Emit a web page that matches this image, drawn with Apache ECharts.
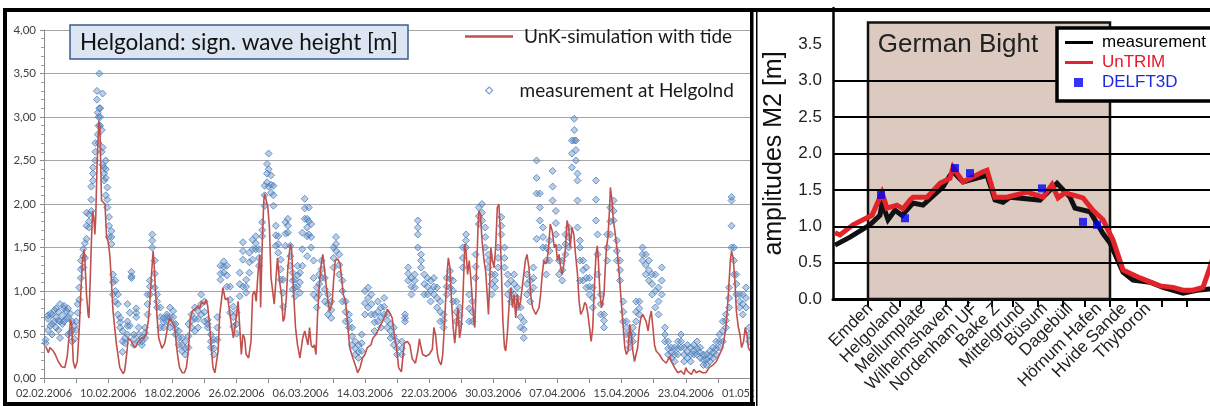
<!DOCTYPE html>
<html><head><meta charset="utf-8">
<script src="https://cdn.jsdelivr.net/npm/echarts@6/dist/echarts.min.js"></script>
<style>html,body{margin:0;padding:0;background:#fff}#c{width:1210px;height:406px}</style>
</head><body><div id="c"></div>
<script>
// ---------- left chart: Helgoland significant wave height ----------
const dateLabels = ['02.02.2006','10.02.2006','18.02.2006','26.02.2006','06.03.2006','14.03.2006','22.03.2006','30.03.2006','07.04.2006','15.04.2006','23.04.2006','01.05.2006'];
// [day since 02.02.2006, Hs]
const simulation = [[0.25,0.36],[0.54,0.29],[0.75,0.35],[1.16,0.31],[1.4,0.27],[1.78,0.19],[2.2,0.13],[2.4,0.11],[2.6,0.12],[2.8,0.11],[2.9,0.25],[3.1,0.23],[3.3,0.67],[3.45,0.62],[3.65,0.19],[3.86,0.11],[3.98,0.10],[4.15,0.19],[4.4,0.58],[4.6,1.0],[4.8,1.35],[5.0,1.48],[5.1,1.35],[5.3,0.96],[5.5,0.73],[5.6,0.69],[5.7,0.96],[5.93,1.62],[6.05,1.92],[6.2,1.85],[6.34,1.65],[6.45,1.85],[6.6,2.42],[6.84,2.96],[6.97,2.88],[7.17,2.04],[7.4,2.04],[7.6,2.0],[7.8,1.62],[8.0,1.56],[8.2,1.42],[8.4,1.12],[8.6,0.77],[9.04,0.38],[9.45,0.12],[9.87,0.05],[10.05,0.08],[10.3,0.27],[10.5,0.46],[10.7,0.48],[10.9,0.42],[11.1,0.38],[11.4,0.35],[11.73,0.42],[12.15,0.46],[12.45,0.46],[12.7,0.5],[13.0,0.65],[13.2,0.88],[13.4,1.19],[13.6,1.46],[13.7,1.35],[13.9,1.0],[14.1,0.69],[14.3,0.46],[14.5,0.40],[14.7,0.34],[15.05,0.40],[15.25,0.5],[15.46,0.62],[15.67,0.69],[15.9,0.67],[16.1,0.62],[16.3,0.58],[16.5,0.38],[16.7,0.23],[16.9,0.12],[17.25,0.06],[17.5,0.06],[17.75,0.12],[18.03,0.35],[18.24,0.69],[18.5,0.77],[18.8,0.79],[19.0,0.77],[19.2,0.83],[19.4,0.79],[19.6,0.87],[19.8,0.88],[20.0,0.85],[20.2,0.90],[20.4,0.83],[20.6,0.65],[20.85,0.35],[21.06,0.12],[21.3,0.06],[21.5,0.08],[21.7,0.31],[21.9,0.73],[22.1,0.88],[22.3,1.04],[22.6,0.90],[22.9,0.92],[23.3,0.65],[23.6,0.46],[23.9,0.65],[24.2,0.88],[24.4,0.58],[24.6,0.27],[24.8,0.5],[25.0,0.46],[25.2,0.27],[25.5,0.23],[25.8,0.42],[26.0,0.96],[26.25,1.0],[26.45,0.88],[26.66,1.19],[26.9,1.42],[27.0,0.81],[27.2,1.54],[27.4,2.04],[27.5,2.12],[27.7,2.04],[27.9,1.96],[28.1,1.73],[28.3,1.15],[28.5,1.17],[28.7,0.85],[28.9,1.12],[29.1,1.38],[29.35,1.12],[29.6,0.96],[29.8,0.65],[29.97,0.69],[30.2,0.92],[30.4,1.27],[30.7,1.54],[30.85,1.5],[31.1,1.0],[31.35,0.58],[31.6,0.38],[31.9,0.23],[32.25,0.46],[32.5,0.54],[32.7,0.46],[32.9,0.38],[33.1,0.58],[33.3,0.38],[33.5,0.35],[33.7,0.38],[33.9,0.27],[34.1,0.73],[34.3,1.04],[34.5,1.27],[34.75,1.42],[34.95,1.27],[35.2,1.04],[35.4,0.88],[35.6,0.77],[35.9,0.85],[36.1,1.12],[36.3,1.35],[36.6,1.37],[36.9,1.31],[37.1,1.15],[37.3,0.96],[37.6,0.88],[37.85,0.62],[38.1,0.35],[38.5,0.23],[38.9,0.12],[39.1,0.06],[39.4,0.12],[39.7,0.23],[40.0,0.27],[40.3,0.35],[40.75,0.38],[41.0,0.46],[41.4,0.50],[41.8,0.58],[42.2,0.65],[42.6,0.73],[42.8,0.79],[43.1,0.75],[43.4,0.69],[43.65,0.5],[43.95,0.35],[44.2,0.12],[44.55,0.07],[44.9,0.40],[45.3,0.42],[45.6,0.38],[45.9,0.22],[46.3,0.17],[46.6,0.31],[46.8,0.45],[47.0,0.35],[47.2,0.27],[47.6,0.25],[48.0,0.27],[48.4,0.33],[48.6,0.58],[48.8,0.5],[49.05,0.27],[49.25,0.19],[49.5,0.15],[49.7,0.27],[49.9,0.58],[50.1,0.96],[50.3,1.27],[50.4,1.38],[50.6,1.27],[50.8,0.88],[51.0,0.58],[51.2,0.40],[51.4,0.62],[51.6,0.81],[51.8,0.46],[52.0,0.58],[52.2,0.88],[52.45,1.54],[52.6,1.46],[52.8,1.19],[53.0,1.35],[53.2,1.15],[53.4,0.88],[53.6,0.62],[53.7,0.58],[53.9,1.19],[54.1,1.73],[54.2,1.92],[54.4,1.88],[54.6,1.58],[54.85,1.35],[55.05,1.23],[55.3,0.88],[55.4,0.73],[55.6,1.19],[55.7,1.5],[55.9,1.35],[56.1,1.27],[56.3,1.5],[56.5,1.96],[56.7,2.0],[56.85,1.73],[57.0,1.27],[57.2,0.65],[57.4,0.35],[57.55,0.31],[57.75,0.5],[58.0,0.88],[58.2,1.04],[58.4,0.81],[58.6,0.96],[58.8,0.69],[59.0,0.96],[59.2,0.81],[59.4,0.88],[59.6,1.04],[59.8,1.19],[60.0,1.35],[60.2,1.42],[60.45,1.27],[60.66,0.96],[60.9,0.81],[61.1,0.79],[61.3,0.73],[61.5,0.75],[61.7,0.81],[61.9,0.96],[62.1,1.19],[62.3,1.35],[62.5,1.31],[62.7,1.35],[62.9,1.5],[63.1,1.77],[63.35,1.69],[63.6,1.5],[63.8,1.54],[64.0,1.35],[64.2,1.42],[64.4,1.27],[64.6,1.19],[64.8,1.31],[65.0,1.5],[65.2,1.81],[65.4,1.73],[65.6,1.5],[65.8,1.73],[66.05,1.65],[66.25,1.42],[66.5,1.19],[66.7,0.88],[66.9,0.73],[67.2,0.79],[67.4,0.87],[67.6,0.84],[67.8,0.73],[68.0,0.58],[68.2,0.42],[68.4,0.58],[68.6,1.04],[68.8,1.42],[68.97,1.52],[69.1,1.35],[69.3,0.96],[69.5,0.81],[69.65,0.79],[69.8,0.96],[69.96,1.27],[70.1,1.5],[70.3,1.62],[70.5,1.96],[70.6,2.19],[70.8,2.04],[70.96,1.81],[71.1,1.73],[71.3,1.58],[71.5,1.42],[71.7,1.19],[71.95,0.88],[72.2,0.58],[72.4,0.35],[72.6,0.27],[72.8,0.31],[73.0,0.62],[73.2,0.5],[73.4,0.31],[73.6,0.19],[73.8,0.19],[74.0,0.35],[74.2,0.58],[74.4,0.69],[74.65,0.73],[74.85,0.69],[75.05,0.65],[75.3,0.54],[75.5,0.69],[75.7,0.77],[75.9,0.58],[76.1,0.38],[76.3,0.31],[76.7,0.27],[77.1,0.21],[77.55,0.17],[78.0,0.25],[78.2,0.19],[78.6,0.12],[79.0,0.06],[79.4,0.08],[79.8,0.04],[80.0,0.12],[80.2,0.08],[80.7,0.04],[81.0,0.10],[81.3,0.06],[81.7,0.08],[82.1,0.06],[82.5,0.06],[82.9,0.12],[83.4,0.15],[83.8,0.19],[84.2,0.27],[84.6,0.35],[85.0,0.58],[85.3,0.96],[85.55,1.35],[85.7,1.46],[85.9,1.38],[86.1,1.15],[86.3,0.77],[86.55,0.58],[86.75,0.5],[86.95,0.35],[87.2,0.42],[87.4,0.58],[87.6,0.5],[87.8,0.35],[88.0,0.31]];
// [day, measured values seen at that time ...]
const measurement = [[0.2,0.40,0.44],[0.5,0.55,0.68,0.72],[0.8,0.60,0.74],[1.0,0.50,0.62,0.73],[1.3,0.65,0.78],[1.5,0.58,0.70,0.80],[1.8,0.55,0.66,0.76],[2.0,0.46,0.65,0.85],[2.3,0.62,0.72],[2.5,0.65,0.80,0.83],[2.8,0.68,0.77],[3.0,0.50,0.70,0.80],[3.3,0.52,0.74],[3.5,0.42,0.55,0.65],[3.8,0.45,0.60],[4.0,0.55,0.65],[4.2,0.75,0.85],[4.4,0.90,1.04],[4.6,1.15,1.25,1.35],[4.9,1.27,1.40,1.48],[5.1,1.38,1.55],[5.3,1.60,1.75,1.90],[5.6,1.73,1.80,1.88],[5.9,1.92,2.05,2.20],[6.1,2.27,2.35,2.42],[6.4,2.50,2.60,2.70],[6.6,3.20,3.30],[6.7,2.80,3.05],[6.75,4.0],[6.8,2.70,2.90,3.00],[6.9,3.50,3.10],[7.0,2.90,3.00,3.10],[7.2,2.60,2.85],[7.3,3.27,2.45,2.65],[7.5,2.27,2.35,2.42],[7.7,2.50,2.10,2.30,2.40],[7.9,1.96,2.05,2.19],[8.1,1.62,1.75,1.85],[8.4,1.54,1.62,1.69],[8.6,0.96,1.10,1.19],[8.9,0.88,1.00,1.12],[9.2,0.73,0.85,0.96],[9.5,0.58,0.64,0.69],[9.8,0.30,0.42,0.54],[10.1,0.40,0.46],[10.4,0.50,0.60,0.65,0.85],[10.7,0.60,0.75],[10.9,1.15,1.17,1.22],[11.2,0.38,0.45,0.50],[11.5,0.70,0.75,0.80],[11.8,0.42,0.50,0.58],[12.2,0.38,0.42,0.46],[12.6,0.46,0.52,0.58],[12.9,0.73,0.85,0.96],[13.2,0.96,1.05,1.12],[13.5,1.50,1.58,1.65],[13.8,1.04,1.20,1.35],[14.1,0.81,0.88,0.96],[14.5,0.58,0.70,0.81],[14.9,0.58,0.64,0.69],[15.3,0.65,0.70,0.73],[15.7,0.58,0.70,0.81],[16.1,0.62,0.70,0.77],[16.4,0.50,0.56,0.62],[16.8,0.38,0.46,0.54],[17.2,0.31,0.38,0.46],[17.6,0.27,0.34,0.42],[18.0,0.35,0.48,0.62],[18.4,0.58,0.66,0.73],[18.8,0.54,0.68,0.81],[19.2,0.58,0.68,0.77],[19.6,0.73,0.85,0.96],[20.0,0.65,0.76,0.88],[20.4,0.58,0.62,0.67],[20.8,0.35,0.42,0.50],[21.2,0.27,0.34,0.44],[21.6,0.44,0.58,0.70],[22.0,1.13,1.20,1.29],[22.4,1.21,1.28,1.34],[22.8,1.05,1.18,1.29],[23.2,0.75,0.90,1.05],[23.6,0.59,0.70,0.82],[24.0,0.51,0.62,0.75],[24.4,0.94,1.08,1.21],[24.8,1.36,1.46,1.56,1.05],[25.2,0.98,1.05,1.13],[25.6,1.21,1.33,1.44],[26.0,1.36,1.48,1.59],[26.4,1.48,1.55,1.63],[26.8,1.29,1.38,1.48],[27.2,1.63,1.70,1.79],[27.5,1.98,2.10,2.21],[27.8,2.25,2.35,2.46],[28.0,2.58,2.20,2.40],[28.3,2.13,2.22,2.33],[28.6,1.98,2.10,2.21],[28.9,1.52,1.64,1.75],[29.2,1.44,1.54,1.63],[29.5,1.13,1.25,1.36],[29.8,0.82,0.98,1.13],[30.1,1.52,1.66,1.79],[30.4,1.67,1.75,1.83],[30.7,1.29,1.40,1.52],[31.0,1.02,1.12,1.21],[31.3,0.94,1.04,1.13],[31.6,1.05,1.18,1.29],[31.9,0.98,1.10,1.21],[32.2,1.29,1.48,1.67],[32.5,1.83,1.95,2.06],[32.8,1.63,1.73,1.83,1.40],[33.0,1.65,1.80,1.96],[33.3,1.50,1.62,1.77],[33.6,0.96,1.15,1.35],[34.0,0.81,0.92,1.04],[34.3,0.96,1.08,1.19],[34.6,1.15,1.25,1.35],[35.0,0.88,1.02,1.15],[35.4,0.73,0.85,0.96],[35.8,0.69,0.78,0.88],[36.1,1.27,1.38,1.50],[36.4,1.46,1.54,1.62],[36.8,1.19,1.30,1.42],[37.2,0.88,1.00,1.12],[37.6,0.65,0.76,0.88],[38.0,0.58,0.66,0.73],[38.4,0.38,0.48,0.58],[38.8,0.27,0.34,0.42],[39.2,0.23,0.30,0.38],[39.6,0.31,0.40,0.50],[40.0,0.73,0.86,1.00],[40.4,0.81,0.92,1.04],[40.8,0.73,0.85,0.96],[41.2,0.54,0.64,0.73],[41.6,0.65,0.76,0.88],[42.0,0.58,0.70,0.81],[42.4,0.73,0.82,0.92],[42.8,0.58,0.66,0.73],[43.2,0.46,0.54,0.62],[43.6,0.38,0.48,0.58],[44.0,0.27,0.34,0.42],[44.6,0.27,0.34,0.42],[45.0,0.65,0.69,0.73],[45.4,1.12,1.20,1.27],[45.8,0.96,1.05,1.15],[46.2,1.04,1.12,1.19],[46.6,1.65,1.73,1.81,1.50],[47.0,1.27,1.35,1.42],[47.4,0.96,1.08,1.19],[47.8,0.96,1.05,1.15],[48.2,0.88,1.00,1.12],[48.6,0.96,1.05,1.15],[49.0,0.81,0.92,1.04],[49.4,0.65,0.76,0.88],[49.8,0.58,0.66,0.73],[50.2,0.96,1.05,1.15],[50.6,1.04,1.14,1.23],[51.0,0.88,1.00,1.12],[51.4,0.65,0.76,0.88],[51.8,0.62,0.72,0.81],[52.2,1.27,1.38,1.50],[52.6,1.50,1.58,1.65],[53.0,0.65,0.80,0.96],[53.4,0.65,0.76,0.88],[53.8,1.15,1.28,1.42],[54.2,1.77,1.86,1.96],[54.6,1.81,1.90,2.00],[55.0,1.50,1.62,1.73],[55.4,1.27,1.35,1.42],[55.8,0.96,1.08,1.19],[56.2,1.04,1.12,1.19],[56.6,1.27,1.38,1.50],[57.0,1.65,1.75,1.85],[57.4,1.27,1.38,1.50],[57.8,0.96,1.08,1.19],[58.2,0.88,1.00,1.12],[58.6,0.96,1.08,1.19],[59.0,0.81,0.92,1.04],[59.4,0.58,0.70,0.81],[59.8,0.46,0.56,0.65],[60.2,0.96,1.08,1.19],[60.6,0.88,1.00,1.12],[61.0,1.04,1.15,1.27],[61.4,2.12,2.30,2.50,1.60],[61.8,1.81,1.96,2.12],[62.2,1.50,1.62,1.73],[62.6,1.19,1.35,1.50],[63.0,1.35,1.46,1.58],[63.4,2.04,2.20,2.38],[63.8,1.65,1.78,1.92],[64.2,1.19,1.35,1.50],[64.6,1.12,1.24,1.35],[65.0,1.42,1.54,1.65],[65.4,1.50,1.62,1.73],[65.8,2.42,2.58,2.73],[66.1,2.73,2.98,2.85],[66.3,2.50,2.62,2.73],[66.5,2.27,2.35,1.73,2.04],[66.8,1.50,1.58,1.12,1.35],[67.2,1.12,1.24,1.35],[67.6,1.04,1.15,1.27],[68.0,0.96,1.05,1.15],[68.4,0.81,0.92,1.04],[68.8,1.81,2.05,2.27],[69.0,1.19,1.42,1.65],[69.4,0.73,0.85,0.96],[69.8,0.58,0.66,0.73],[70.2,1.35,1.50,1.65],[70.6,1.65,1.80,1.96],[71.0,1.81,1.92,2.04],[71.4,1.35,1.46,1.58],[71.8,1.12,1.24,1.35],[72.2,0.65,0.76,0.88],[72.6,0.50,0.58,0.65],[73.0,0.35,0.42,0.50],[73.4,0.42,0.50,0.58],[73.8,0.65,0.76,0.88],[74.2,0.73,0.80,0.88],[74.6,1.35,1.42,1.50],[75.0,1.19,1.30,1.42],[75.4,1.12,1.24,1.35],[75.8,0.96,1.08,1.19],[76.2,0.81,1.00,1.19],[76.6,0.73,0.88,1.04],[77.0,0.96,1.12,1.27],[77.4,0.42,0.50,0.58],[77.8,0.27,0.34,0.42],[78.2,0.23,0.29,0.35],[78.6,0.19,0.27,0.35],[79.0,0.27,0.34,0.42],[79.4,0.35,0.42,0.50],[79.8,0.19,0.27,0.35],[80.2,0.23,0.30,0.38],[80.6,0.19,0.27,0.35],[81.0,0.27,0.32,0.38],[81.4,0.27,0.34,0.42],[81.8,0.23,0.29,0.35],[82.2,0.15,0.21,0.27],[82.6,0.15,0.21,0.27],[83.0,0.19,0.25,0.31],[83.4,0.23,0.29,0.35],[83.8,0.27,0.34,0.42],[84.2,0.35,0.42,0.50],[84.6,0.42,0.54,0.65],[85.0,0.58,0.66,0.73],[85.4,0.81,0.92,1.04],[85.7,1.50,1.75,2.04,2.08],[86.0,1.19,1.35,1.50],[86.3,0.96,1.08,1.19],[86.7,0.81,0.88,0.96],[87.1,0.73,0.85,0.96],[87.5,0.81,0.92,1.04],[87.9,0.42,0.50,0.58]];

// ---------- right chart: M2 amplitudes along the coast ----------
const stations = ['Emden','Helgoland','Mellumplate','Wilhelmshaven','Nordenham UF','Bake Z','Mittelgrund','Büsum','Dagebüll','Hörnum Hafen','Hvide Sande','Thyboron'];
const stationLabelPos = [37, 64, 90, 117, 142, 164, 189, 212, 237, 266, 291, 315];
const stationTickPos = [35, 67, 88, 113, 135, 159, 180, 205, 230, 252, 277, 304, 329, 354];
const germanBight = [35, 277];
const gridLevels = [0.5, 1.0, 1.5, 2.0, 2.5, 3.0];
const m2Measurement = [[2,0.74],[17,0.85],[37,1.02],[47,1.15],[49,1.32],[55,1.09],[62,1.22],[69,1.15],[80,1.32],[90,1.29],[110,1.54],[117,1.70],[120,1.75],[130,1.61],[154,1.70],[162,1.36],[170,1.33],[177,1.40],[207,1.36],[224,1.59],[237,1.40],[242,1.25],[257,1.20],[270,0.90],[277,0.77],[290,0.37],[300,0.26],[317,0.23],[330,0.16],[350,0.08],[364,0.12],[378,0.14]];
const m2UnTRIM = [[2,0.91],[7,0.88],[20,1.02],[30,1.09],[39,1.15],[49,1.46],[54,1.25],[64,1.29],[70,1.24],[77,1.36],[80,1.40],[94,1.40],[107,1.59],[117,1.66],[120,1.81],[130,1.61],[150,1.75],[154,1.77],[162,1.40],[174,1.40],[194,1.47],[210,1.40],[219,1.57],[225,1.39],[232,1.46],[250,1.39],[260,1.22],[270,1.09],[280,0.81],[290,0.40],[307,0.29],[327,0.18],[340,0.16],[350,0.12],[360,0.12],[370,0.16],[377,0.44],[382,0.65]];
const m2Delft3D = [[48,1.43],[72,1.11],[122,1.80],[137,1.73],[209,1.52],[250,1.06],[264,1.02]];

const measPoints = [];
measurement.forEach(r => { for (let i = 1; i < r.length; i++) measPoints.push([r[0], r[i]]); });

const chart = echarts.init(document.getElementById('c'), null, {renderer: 'canvas'});
const LATO = 'Lato', ARIAL = 'Liberation Sans';
chart.setOption({
  animation: false,
  backgroundColor: '#fff',
  title: {
    text: 'Helgoland: sign. wave height [m]', left: 70, top: 25,
    backgroundColor: '#DCE6F2', borderColor: '#3B5E8C', borderWidth: 1.5,
    padding: [6, 10, 5, 10],
    textStyle: {fontFamily: LATO, fontSize: 22.5, fontWeight: 'normal', color: '#111'}
  },
  legend: [
    {data: [{name: 'UnK-simulation with tide', icon: 'rect'}], left: 465, top: 27, padding: 0,
     itemWidth: 48, itemHeight: 2.5, selectedMode: false, z: 10,
     textStyle: {fontFamily: LATO, fontSize: 19, color: '#1a1a1a', padding: [0,0,0,6]}},
    {data: [{name: 'measurement at Helgolnd', icon: 'diamond'}], left: 485, top: 81, padding: 0,
     itemWidth: 7, itemHeight: 7, selectedMode: false, z: 10,
     itemStyle: {color: '#fff', borderColor: '#5B8AC7', borderWidth: 1.2},
     textStyle: {fontFamily: LATO, fontSize: 19, color: '#1a1a1a', padding: [0,0,0,22]}},
    {data: [{name: 'measurement', icon: 'rect', textStyle: {color: '#000'}}], left: 1065, top: 34, padding: 0,
     itemWidth: 28, itemHeight: 3, selectedMode: false, z: 10,
     textStyle: {fontFamily: ARIAL, fontSize: 17, padding: [0,0,0,4]}},
    {data: [{name: 'UnTRIM', icon: 'rect', textStyle: {color: '#E8172E'}}], left: 1065, top: 54, padding: 0,
     itemWidth: 28, itemHeight: 3, selectedMode: false, z: 10,
     textStyle: {fontFamily: ARIAL, fontSize: 17, padding: [0,0,0,4]}},
    {data: [{name: 'DELFT3D', icon: 'rect', textStyle: {color: '#1D2BE0'}}], left: 1074, top: 74, padding: 0,
     itemWidth: 9, itemHeight: 9, selectedMode: false, z: 10,
     textStyle: {fontFamily: ARIAL, fontSize: 17, padding: [0,0,0,14]}}
  ],
  grid: [
    {left: 44, top: 30, width: 706, height: 348},
    {left: 833, top: 8, width: 377, height: 291}
  ],
  xAxis: [
    {type: 'value', gridIndex: 0, min: 0, max: 88, interval: 8,
     axisLine: {show: true, lineStyle: {color: '#8c8c8c', width: 1}},
     axisTick: {show: true, length: 5, lineStyle: {color: '#8c8c8c'}},
     minorTick: {show: true, splitNumber: 2, length: 5, lineStyle: {color: '#8c8c8c'}},
     splitLine: {show: false},
     axisLabel: {margin: 10, fontFamily: LATO, fontSize: 11, color: '#404040', showMaxLabel: true,
       formatter: v => dateLabels[Math.round(v / 8)]}},
    {type: 'value', gridIndex: 1, min: 0, max: 377,
     axisLine: {show: true, onZero: false, lineStyle: {color: '#000', width: 3}},
     axisTick: {show: true, customValues: stationTickPos, length: 8, lineStyle: {color: '#000', width: 2}},
     splitLine: {show: false},
     axisLabel: {customValues: stationLabelPos, rotate: 45, margin: 7, fontFamily: ARIAL, fontSize: 17, color: '#222',
       showMinLabel: true, showMaxLabel: true, hideOverlap: false,
       formatter: v => stations[stationLabelPos.indexOf(v)] || ''}}
  ],
  yAxis: [
    {type: 'value', gridIndex: 0, min: 0, max: 4, interval: 0.5,
     axisLine: {show: true, lineStyle: {color: '#8c8c8c', width: 1}},
     axisTick: {show: true, length: 4, lineStyle: {color: '#8c8c8c'}},
     minorTick: {show: true, splitNumber: 5, length: 3, lineStyle: {color: '#a0a0a0'}},
     splitLine: {show: true, lineStyle: {color: '#a6a6a6', width: 1}},
     axisLabel: {margin: 8, fontFamily: LATO, fontSize: 11.5, color: '#404040',
       formatter: v => v.toFixed(2).replace('.', ',')}},
    {type: 'value', gridIndex: 1, min: 0, max: 4, interval: 0.5,
     name: 'amplitudes M2 [m]', nameLocation: 'middle', nameGap: 46, nameRotate: 90,
     nameTextStyle: {fontFamily: ARIAL, fontSize: 25, color: '#111'},
     axisLine: {show: true, lineStyle: {color: '#000', width: 2.5}},
     axisTick: {show: false}, splitLine: {show: false},
     axisLabel: {margin: 11, fontFamily: ARIAL, fontSize: 17, color: '#222',
       formatter: v => (v >= 4 ? '' : v.toFixed(1))}}
  ],
  series: [
    {name: 'measurement at Helgolnd', type: 'scatter', xAxisIndex: 0, yAxisIndex: 0, data: measPoints,
     symbol: 'diamond', symbolSize: 7, z: 2, silent: true,
     itemStyle: {color: 'rgba(79,129,189,0.5)', borderColor: '#4F81BD', borderWidth: 1}},
    {name: 'UnK-simulation with tide', type: 'line', xAxisIndex: 0, yAxisIndex: 0, data: simulation,
     showSymbol: false, symbol: 'none', z: 3, silent: true,
     itemStyle: {color: '#C0504D'}, lineStyle: {color: '#C0504D', width: 1.6}},
    {name: '_box', type: 'line', xAxisIndex: 1, yAxisIndex: 1, data: [], z: 1, silent: true,
     markArea: {silent: true,
       itemStyle: {color: '#DCCAC1', borderColor: '#111', borderWidth: 2.5},
       label: {show: true, position: [11, 11], fontFamily: ARIAL, fontSize: 26, color: '#222'},
       data: [[{name: 'German Bight', xAxis: germanBight[0], yAxis: 3.8}, {xAxis: germanBight[1], yAxis: 0}]]}},
    {name: '_grid', type: 'line', xAxisIndex: 1, yAxisIndex: 1, data: [], z: 2, silent: true,
     markLine: {silent: true, symbol: 'none', label: {show: false},
       lineStyle: {color: '#000', width: 2, type: 'solid'},
       data: gridLevels.map(v => ({yAxis: v}))}},
    {name: 'measurement', type: 'line', xAxisIndex: 1, yAxisIndex: 1, data: m2Measurement,
     showSymbol: false, symbol: 'none', z: 3, silent: true,
     itemStyle: {color: '#000'}, lineStyle: {color: '#111', width: 5, join: 'miter'}},
    {name: 'UnTRIM', type: 'line', xAxisIndex: 1, yAxisIndex: 1, data: m2UnTRIM,
     showSymbol: false, symbol: 'none', z: 4, silent: true,
     itemStyle: {color: '#E2232A'}, lineStyle: {color: '#E2232A', width: 5, join: 'miter'}},
    {name: 'DELFT3D', type: 'scatter', xAxisIndex: 1, yAxisIndex: 1, data: m2Delft3D,
     symbol: 'rect', symbolSize: 8, z: 5, silent: true,
     itemStyle: {color: '#0000F0'}}
  ],
  graphic: [
    {type: 'rect', z: 50, shape: {x: 754, y: 372, width: 60, height: 34}, style: {fill: '#fff'}},
    {type: 'rect', z: 9, shape: {x: 1057, y: 28, width: 170, height: 73}, style: {fill: '#fff', stroke: '#000', lineWidth: 3.5}},
    {type: 'rect', z: 60, shape: {x: 3, y: 8, width: 1207, height: 4}, style: {fill: '#000'}},
    {type: 'rect', z: 60, shape: {x: 3, y: 8, width: 4, height: 398}, style: {fill: '#000'}},
    {type: 'rect', z: 60, shape: {x: 3, y: 402, width: 752, height: 4}, style: {fill: '#000'}},
    {type: 'rect', z: 60, shape: {x: 750, y: 8, width: 3.5, height: 398}, style: {fill: '#000'}},
    {type: 'rect', z: 60, shape: {x: 756, y: 10, width: 1.5, height: 396}, style: {fill: '#000'}}
  ]
});
</script></body></html>
